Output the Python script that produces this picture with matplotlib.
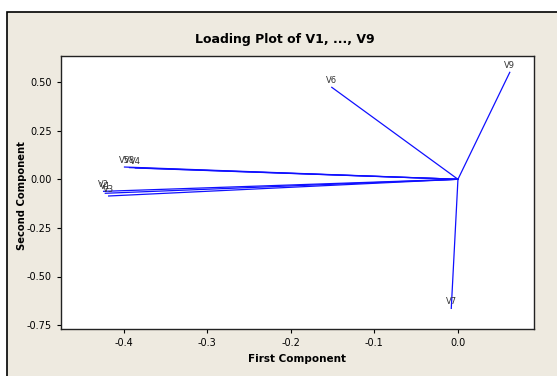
import matplotlib.pyplot as plt
from matplotlib.patches import Rectangle

# Loadings of the first two principal components
variables = ["V1", "V2", "V3", "V4", "V5", "V6", "V7", "V8", "V9"]
first_comp = [-0.422, -0.424, -0.418, -0.386, -0.399, -0.151, -0.008, -0.393, 0.062]
second_comp = [-0.072, -0.062, -0.086, 0.058, 0.063, 0.473, -0.664, 0.060, 0.550]

plt.rcParams["font.family"] = ["DejaVu Sans"]

fig = plt.figure(figsize=(5.57, 3.76), dpi=100)
fig.patch.set_facecolor("white")

# Beige panel with a dark frame behind the plot
fig.patches.append(Rectangle((7 / 557, -0.1), 1.2, 1 - 12 / 376 + 0.1,
                             transform=fig.transFigure, facecolor="#EEEAE0",
                             edgecolor="black", linewidth=1.2, zorder=-5))

ax = fig.add_axes([61 / 557, 1 - 329 / 376, 473 / 557, 273 / 376])
ax.set_facecolor("white")

for name, x, y in zip(variables, first_comp, second_comp):
    ax.plot([0, x], [0, y], color="#1010FF", linewidth=0.9)
    ax.text(x, y + 0.012, name, ha="center", va="bottom", fontsize=6,
            color="#333333")

ax.set_xlim(-0.475, 0.091)
ax.set_ylim(-0.77, 0.634)
ax.set_xticks([-0.4, -0.3, -0.2, -0.1, 0.0])
ax.set_xticklabels(["-0.4", "-0.3", "-0.2", "-0.1", "0.0"])
ax.set_yticks([0.5, 0.25, 0.0, -0.25, -0.5, -0.75])
ax.set_yticklabels(["0.50", "0.25", "0.00", "-0.25", "-0.50", "-0.75"])
ax.tick_params(labelsize=7, length=3, width=0.8, colors="black")
for spine in ax.spines.values():
    spine.set_linewidth(1.0)
    spine.set_color("#222222")

ax.set_xlabel("First Component", fontsize=7.5, fontweight="bold", labelpad=4)
ax.set_ylabel("Second Component", fontsize=7.2, fontweight="bold")
ax.yaxis.set_label_coords(-0.072, 0.49)
fig.text(285 / 557, 1 - 40 / 376, "Loading Plot of V1, ..., V9", ha="center",
         va="center", fontsize=9, fontweight="bold")

fig.savefig("out.png", dpi=100)
